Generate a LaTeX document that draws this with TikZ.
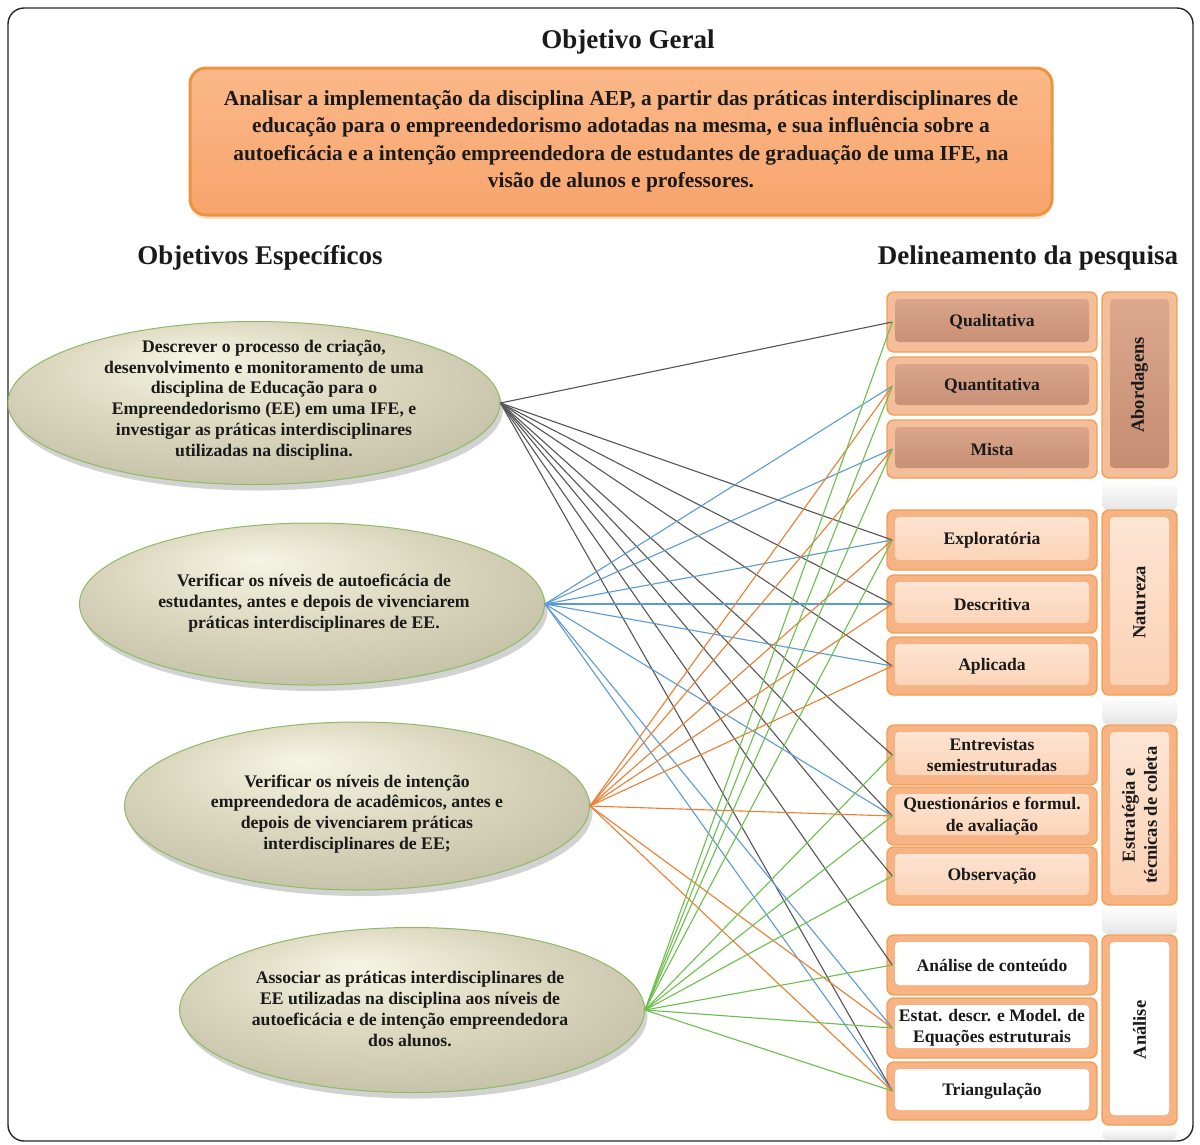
\documentclass[tikz,border=0pt]{standalone}
\usepackage{fontspec}
\setmainfont{Liberation Serif}
\usetikzlibrary{shapes.geometric,shadows}

\definecolor{inkdark}{HTML}{1A1A1A}
\definecolor{lnblack}{HTML}{555555}
\definecolor{lnblue}{HTML}{5B9BD5}
\definecolor{lnorange}{HTML}{ED7D31}
\definecolor{lngreen}{HTML}{6CBF4A}
\definecolor{ovhi}{HTML}{F6F4E4}
\definecolor{ovmid}{HTML}{DDD9C1}
\definecolor{ovlo}{HTML}{C2BEA4}
\definecolor{ovedge}{HTML}{A29E86}
\definecolor{ovrim}{HTML}{8DBA62}
\definecolor{boxfill}{HTML}{F8A46C}
\definecolor{boxfilltop}{HTML}{FBB889}
\definecolor{boxrim}{HTML}{EE9440}
\definecolor{tileout}{HTML}{F7B384}
\definecolor{tilerim}{HTML}{F0A055}
\definecolor{tilein1}{HTML}{FDE6D6}
\definecolor{tilein2}{HTML}{FBD0B2}
\definecolor{brownout}{HTML}{F5BE9A}
\definecolor{brownin1}{HTML}{DDA98F}
\definecolor{brownin2}{HTML}{C48B70}

\pgfdeclareradialshading{ovalshade}{\pgfpoint{-6bp}{14bp}}{%
  color(0bp)=(ovhi); color(16bp)=(ovmid); color(34bp)=(ovlo); color(50bp)=(ovedge)}

\newcommand\fsmall{\fontsize{17.6}{21.5}\selectfont\bfseries}
\newcommand\fgroup{\fontsize{18.5}{22}\selectfont\bfseries}

\tikzset{
  head/.style={font=\fontsize{27}{30}\selectfont\bfseries, text=inkdark, inner sep=0},
  oval/.style={ellipse, draw=ovrim, line width=1pt, shade, shading=ovalshade,
    drop shadow={shadow xshift=3pt, shadow yshift=-6pt, opacity=.25, fill=black!70}},
  ovaltext/.style={align=center, font=\fontsize{17.7}{20.8}\selectfont\bfseries,
    text=inkdark, inner sep=0},
  tilebase/.style n args={3}{rectangle, rounded corners=7pt, draw=tilerim,
    line width=1.4pt, fill=#1, text=inkdark, align=center, font=\fsmall, inner sep=0,
    path picture={\shade[top color=#2, bottom color=#3, rounded corners=4pt]
      ([xshift=8pt,yshift=-7pt]path picture bounding box.north west) rectangle
      ([xshift=-8pt,yshift=10pt]path picture bounding box.south east);}},
  tileA/.style={tilebase={brownout}{brownin1}{brownin2}, minimum width=210pt},
  tileB/.style={tilebase={tileout}{tilein1}{tilein2}, minimum width=210pt},
  tileW/.style={tilebase={tileout}{white}{white}, minimum width=210pt},
  grpA/.style={tilebase={brownout}{brownin1}{brownin2}, minimum width=75pt},
  grpB/.style={tilebase={tileout}{tilein1}{tilein2}, minimum width=75pt},
  grpW/.style={tilebase={tileout}{white}{white}, minimum width=75pt},
  grplabel/.style={rotate=90, align=center, font=\fgroup, text=inkdark, inner sep=0},
  echo/.style={rounded corners=6pt, top color=white, bottom color=black!10, draw=none},
  topbox/.style={rectangle, rounded corners=16pt, draw=boxrim, line width=3pt,
    top color=boxfilltop, bottom color=boxfill, align=center, text=inkdark,
    font=\fontsize{21.4}{27.5}\selectfont\bfseries, inner sep=0,
    drop shadow={shadow xshift=0pt, shadow yshift=-4pt, opacity=.25, fill=boxrim}},
  lk/.style={line width=1.1pt}
}

\begin{document}
\begin{tikzpicture}[x=1pt,y=-1pt]
\useasboundingbox (0,0) rectangle (1200,1144);
\fill[white] (0,0) rectangle (1200,1144);
\draw[line width=1.4pt, rounded corners=16pt, black!85] (8,8) rectangle (1193,1141);

% headings
\node[head] (tit) at (628,42) {Objetivo Geral};
\node[head] (hesp) at (260,258) {Objetivos Específicos};
\node[head] (hdel) at (1028,258) {Delineamento da pesquisa};

% general objective
\node[topbox, minimum width=862pt, minimum height=147pt] (geral) at (621,141.5)
  {Analisar a implementação da disciplina AEP, a partir das práticas interdisciplinares de\\
   educação para o empreendedorismo adotadas na mesma, e sua influência sobre a\\
   autoeficácia e a intenção empreendedora de estudantes de graduação de uma IFE, na\\
   visão de alunos e professores.};

% specific objectives
\node[oval, minimum width=492pt, minimum height=163pt] (e1) at (254,403) {};
\node[ovaltext] (e1t) at (264,400) {Descrever o processo de criação,\\
  desenvolvimento e monitoramento de uma\\ disciplina de Educação para o\\
  Empreendedorismo (EE) em uma IFE, e\\ investigar as práticas interdisciplinares\\
  utilizadas na disciplina.};
\node[oval, minimum width=465pt, minimum height=162pt] (e2) at (312,604) {};
\node[ovaltext] (e2t) at (314,603) {Verificar os níveis de autoeficácia de\\
  estudantes, antes e depois de vivenciarem\\ práticas interdisciplinares de EE.};
\node[oval, minimum width=465pt, minimum height=168pt] (e3) at (357,806) {};
\node[ovaltext] (e3t) at (357,814) {Verificar os níveis de intenção\\
  empreendedora de acadêmicos, antes e\\ depois de vivenciarem práticas\\
  interdisciplinares de EE;};
\node[oval, minimum width=465pt, minimum height=165pt] (e4) at (412,1010) {};
\node[ovaltext] (e4t) at (410,1009) {Associar as práticas interdisciplinares de\\
  EE utilizadas na disciplina aos níveis de\\ autoeficácia e de intenção empreendedora\\
  dos alunos.};

% faint reflections under the group column
\shade[echo] (1102,480) rectangle (1177,510);
\shade[echo] (1102,697) rectangle (1177,724);
\shade[echo] (1102,907) rectangle (1177,934);
\shade[echo] (1102,1127) rectangle (1177,1140);

% research design: approaches
\node[tileA, minimum height=60pt] (qual) at (992,322) {Qualitativa};
\node[tileA, minimum height=58pt] (quant) at (992,386) {Quantitativa};
\node[tileA, minimum height=58pt] (mista) at (992,449) {Mista};
\node[grpA, minimum height=186pt] (gabord) at (1139.5,385) {};
\node[grplabel] (gabordl) at (gabord) {Abordagens};

% nature
\node[tileB, minimum height=60pt] (explor) at (992,540) {Exploratória};
\node[tileB, minimum height=58pt] (descr) at (992,604) {Descritiva};
\node[tileB, minimum height=58pt] (aplic) at (992,666) {Aplicada};
\node[grpB, minimum height=185pt] (gnat) at (1139.5,602.5) {};
\node[grplabel] (gnatl) at (gnat) {Natureza};

% collection
\node[tileB, minimum height=60pt] (entrev) at (992,755) {Entrevistas\\ semiestruturadas};
\node[tileB, minimum height=58pt] (quest) at (992,816) {Questionários e formul.\\ de avaliação};
\node[tileB, minimum height=58pt] (obs) at (992,876) {Observação};
\node[grpB, minimum height=180pt] (gcol) at (1139.5,815) {};
\node[grplabel] (gcoll) at (gcol) {Estratégia e\\ técnicas de coleta};

% analysis
\node[tileW, minimum height=60pt] (anacont) at (992,965) {Análise de conteúdo};
\node[tileW, minimum height=60pt] (estat) at (992,1028) {Estat. descr. e Model. de\\ Equações estruturais};
\node[tileW, minimum height=58pt] (triang) at (992,1091) {Triangulação};
\node[grpW, minimum height=190pt] (ganal) at (1139.5,1030) {};
\node[grplabel] (ganall) at (ganal) {Análise};

% links from each specific objective
\foreach \t in {qual,explor,descr,aplic,entrev,quest,obs,anacont,triang}
  \draw[lk, lnblack] (e1.east) -- ([xshift=6pt]\t.west);
\foreach \t in {quant,mista,explor,descr,aplic,quest,estat,triang}
  \draw[lk, lnblue] (e2.east) -- ([xshift=6pt]\t.west);
\foreach \t in {quant,mista,explor,descr,aplic,quest,estat,triang}
  \draw[lk, lnorange] (e3.east) -- ([xshift=6pt]\t.west);
\foreach \t in {qual,quant,mista,explor,entrev,quest,obs,anacont,estat,triang}
  \draw[lk, lngreen] (e4.east) -- ([xshift=6pt]\t.west);
\end{tikzpicture}
\end{document}
